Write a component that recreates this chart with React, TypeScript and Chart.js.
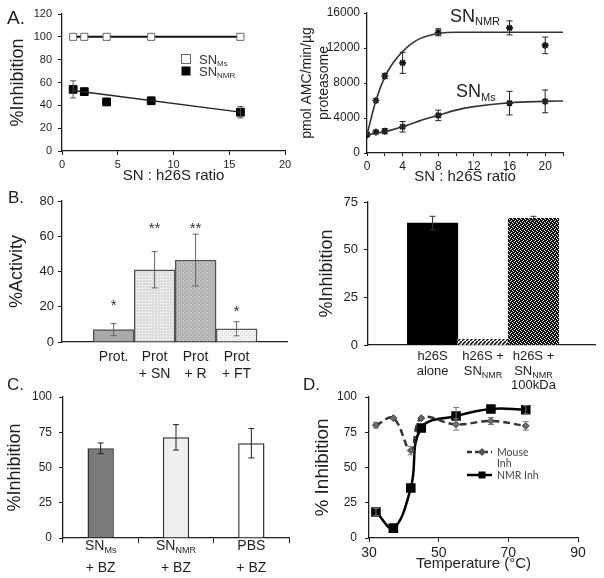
import React, { useEffect, useRef } from 'react';
import { Chart, registerables } from 'chart.js';

Chart.register(...registerables);

const FONT = "'Liberation Sans', Arial, Helvetica, sans-serif";
const INK = '#1e1e1e';

// ---------------- DATA ----------------
// Panel A (left): % inhibition vs SN : h26S ratio
const aRatios = [1, 2, 4, 8, 16];
const aInhMs = [100, 100, 100, 100, 100];
const aInhNmr = [54, 52, 43, 44, 34];
const aInhNmrErr = [7.5, 0, 0, 0, 5];
const aTrendX = [1, 16];
const aTrendNmr = [53, 34];

// Panel A (right): pmol AMC/min/ug proteasome vs SN : h26S ratio
const arRatios = [0, 1, 2, 4, 8, 16, 20];
const arNmr = [2100, 6000, 8800, 10300, 13800, 14300, 12300];
const arNmrErr = [0, 0, 300, 1200, 400, 800, 950];
const arMs = [2100, 2400, 2500, 3000, 4300, 5700, 5900];
const arMsErr = [0, 150, 300, 600, 600, 1350, 1300];
const arFitX = [0, 1, 2, 3, 4, 5, 6, 8, 10, 12, 16, 20, 22];
const arFitNmr = [2100, 6000, 8700, 10400, 11600, 12500, 13100, 13650, 13800, 13800, 13800, 13800, 13800];
const arFitMs = [2100, 2250, 2450, 2700, 3000, 3350, 3700, 4300, 4900, 5300, 5750, 5900, 5950];

// Panel B (left): % activity
const bLabels = [['Prot.'], ['Prot', '+ SN'], ['Prot', '+ R'], ['Prot', '+ FT']];
const bActivity = [7, 41, 46.5, 7.5];
const bActivityErr = [3.4, 10.3, 14.7, 4];
const bSig = ['*', '**', '**', '*'];

// Panel B (right): % inhibition
const b2Labels = [['h26S', 'alone'], ['h26S +', 'SN_{NMR}'], ['h26S +', 'SN_{NMR}', '100kDa']];
const b2Inh = [64, 3, 66.5];
const b2InhErr = [3.5, 0, 1];

// Panel C: % inhibition
const cLabels = [['SN_{Ms}', '+ BZ'], ['SN_{NMR}', '+ BZ'], ['PBS', '+ BZ']];
const cInh = [63.6, 71.4, 67.2];
const cInhErr = [3.8, 9, 10.4];

// Panel D: % inhibition vs temperature
const dTemp = [32, 37, 42, 45, 55, 65, 75];
const dMouse = [80, 85, 62, 85, 80.5, 83, 79.5];
const dMouseErr = [2, 0, 3, 0, 4, 2.5, 3];
const dNmr = [18.5, 7, 35.5, 78, 86.5, 91.5, 91];
const dNmrErr = [2.5, 0, 0, 0, 6, 0, 3];

// ---------------- HELPERS ----------------
type Box = { left: number; top: number; w: number; h: number };
type Area = { l: number; t: number; r: number; b: number };

function geom(box: Box, a: Area) {
  return {
    padding: { left: 0, top: a.t - box.top, right: box.left + box.w - a.r, bottom: 0 },
    yW: a.l - box.left,
    xH: box.top + box.h - a.b,
  };
}

function drawRich(ctx: any, text: string, x: number, y: number, o: any) {
  const parts: { t: string; sub: boolean }[] = [];
  const re = /_\{([^}]*)\}/g;
  let last = 0;
  let m: any;
  while ((m = re.exec(text)) !== null) {
    if (m.index > last) parts.push({ t: text.slice(last, m.index), sub: false });
    parts.push({ t: m[1], sub: true });
    last = re.lastIndex;
  }
  if (last < text.length) parts.push({ t: text.slice(last), sub: false });
  const fam = o.family || FONT;
  ctx.save();
  ctx.fillStyle = o.color || INK;
  ctx.textAlign = 'left';
  ctx.textBaseline = 'alphabetic';
  const widths = parts.map((p) => {
    ctx.font = `${p.sub ? o.sub : o.size}px ${fam}`;
    return ctx.measureText(p.t).width;
  });
  const total = widths.reduce((a, b) => a + b, 0);
  let cx = o.align === 'center' ? x - total / 2 : o.align === 'right' ? x - total : x;
  parts.forEach((p, i) => {
    ctx.font = `${p.sub ? o.sub : o.size}px ${fam}`;
    ctx.fillText(p.t, cx, y + (p.sub ? o.drop || 0 : 0));
    cx += widths[i];
  });
  ctx.restore();
}

const errorBars = {
  id: 'errorBars',
  afterDatasetsDraw(chart: any) {
    const ctx = chart.ctx;
    chart.data.datasets.forEach((ds: any, i: number) => {
      if (!ds.errors) return;
      const meta = chart.getDatasetMeta(i);
      const ys = chart.scales[meta.yAxisID];
      ctx.save();
      ctx.strokeStyle = ds.errColor || '#000';
      ctx.lineWidth = ds.errWidth || 1;
      meta.data.forEach((el: any, j: number) => {
        const e = ds.errors[j];
        if (!e) return;
        const raw = ds.data[j];
        const v = typeof raw === 'number' ? raw : raw.y;
        const x = el.x;
        const y1 = ys.getPixelForValue(v + e);
        const y2 = ys.getPixelForValue(v - e);
        const cw = ds.capW ?? 3;
        ctx.beginPath();
        ctx.moveTo(x, y1);
        ctx.lineTo(x, y2);
        ctx.moveTo(x - cw, y1);
        ctx.lineTo(x + cw, y1);
        ctx.moveTo(x - cw, y2);
        ctx.lineTo(x + cw, y2);
        ctx.stroke();
      });
      ctx.restore();
    });
  },
};

function makeDotPattern(bg: string, dot: string, size: number, dots: number[][]) {
  const c = document.createElement('canvas');
  c.width = size;
  c.height = size;
  const g = c.getContext('2d')!;
  g.fillStyle = bg;
  g.fillRect(0, 0, size, size);
  g.fillStyle = dot;
  dots.forEach(([x, y]) => g.fillRect(x, y, 1, 1));
  return g.createPattern(c, 'repeat');
}

function makeHatch() {
  const c = document.createElement('canvas');
  c.width = 4;
  c.height = 4;
  const g = c.getContext('2d')!;
  g.fillStyle = '#fff';
  g.fillRect(0, 0, 4, 4);
  g.strokeStyle = '#000';
  g.lineWidth = 1.5;
  g.beginPath();
  g.moveTo(0, 4);
  g.lineTo(4, 0);
  g.stroke();
  return g.createPattern(c, 'repeat');
}

function yAxis(o: any) {
  return {
    type: 'linear',
    position: 'left',
    min: o.min,
    max: o.max,
    ticks: {
      stepSize: o.step,
      font: { family: FONT, size: o.tickSize },
      color: INK,
      padding: o.pad,
      callback: (v: any) => String(v),
    },
    grid: { drawOnChartArea: false, drawTicks: true, tickLength: o.tl, color: INK, lineWidth: 1 },
    border: { display: true, color: INK, width: 1.3 },
    title: {
      display: true,
      text: o.title,
      font: { family: FONT, size: o.titleSize, lineHeight: 1.2 },
      color: INK,
      padding: { top: o.titlePad, bottom: 0 },
    },
    afterFit: (s: any) => {
      s.width = o.width;
    },
  };
}

function xLinAxis(o: any) {
  return {
    type: 'linear',
    position: 'bottom',
    offset: false,
    min: o.min,
    max: o.max,
    ticks: {
      display: o.showTicks !== false,
      stepSize: o.step,
      font: { family: FONT, size: o.tickSize || 12 },
      color: INK,
      padding: o.pad || 3,
      maxRotation: 0,
      autoSkip: false,
      callback: o.callback || ((v: any) => String(v)),
    },
    afterBuildTicks: o.tickValues
      ? (s: any) => {
          s.ticks = o.tickValues.map((v: number) => ({ value: v }));
        }
      : undefined,
    grid: { offset: false, drawOnChartArea: false, drawTicks: o.drawTicks !== false, tickLength: o.tl || 4, color: INK, lineWidth: 1 },
    border: { display: true, color: INK, width: 1.3 },
    title: o.title
      ? {
          display: true,
          text: o.title,
          font: { family: FONT, size: o.titleSize, lineHeight: 1.2 },
          color: INK,
          padding: { top: 0, bottom: o.titlePad },
        }
      : { display: false },
    afterFit: (s: any) => {
      s.height = o.height;
    },
  };
}

const BASE: any = {
  responsive: false,
  animation: false,
  events: [],
};
const NOPLUG = { legend: { display: false }, tooltip: { enabled: false } };

function barLabels(labels: string[][], o: any) {
  return {
    id: 'barLabels',
    afterDraw(chart: any) {
      const meta = chart.getDatasetMeta(0);
      const ca = chart.chartArea;
      labels.forEach((lines, i) => {
        const el = meta.data[i];
        lines.forEach((ln, k) =>
          drawRich(chart.ctx, ln, el.x, ca.bottom + o.first + k * o.gap, { ...o, align: 'center' })
        );
      });
    },
  };
}

// ---------------- PANEL CONFIGS ----------------
const boxA1: Box = { left: 0, top: 0, w: 300, h: 190 };
const areaA1: Area = { l: 62, t: 14, r: 285, b: 151 };
function cfgA1() {
  const g = geom(boxA1, areaA1);
  const legend = {
    id: 'legA1',
    afterDraw(chart: any) {
      const { ctx, chartArea: ca } = chart;
      const x = ca.left + 124;
      ctx.save();
      ctx.fillStyle = '#fff';
      ctx.strokeStyle = '#666';
      ctx.lineWidth = 1;
      ctx.fillRect(x - 4.5, ca.top + 40.5, 9, 9);
      ctx.strokeRect(x - 4.5, ca.top + 40.5, 9, 9);
      ctx.fillStyle = '#000';
      ctx.fillRect(x - 4.5, ca.top + 52.5, 9, 9);
      ctx.restore();
      drawRich(ctx, 'SN_{Ms}', ca.left + 137, ca.top + 50, { size: 13, sub: 8, drop: 2, color: '#333' });
      drawRich(ctx, 'SN_{NMR}', ca.left + 137, ca.top + 62, { size: 13, sub: 8, drop: 2, color: '#333' });
    },
  };
  return {
    type: 'scatter',
    data: {
      datasets: [
        {
          data: aRatios.map((x, i) => ({ x, y: aInhMs[i] })),
          showLine: true,
          borderColor: '#111',
          borderWidth: 2,
          pointStyle: 'rect',
          pointRadius: 5,
          pointBackgroundColor: '#fff',
          pointBorderColor: '#666',
          pointBorderWidth: 1,
        },
        {
          data: aTrendX.map((x, i) => ({ x, y: aTrendNmr[i] })),
          showLine: true,
          borderColor: '#222',
          borderWidth: 1.3,
          pointRadius: 0,
        },
        {
          data: aRatios.map((x, i) => ({ x, y: aInhNmr[i] })),
          pointStyle: 'rect',
          pointRadius: 5.5,
          pointBackgroundColor: '#000',
          pointBorderColor: '#000',
          pointBorderWidth: 1,
          errors: aInhNmrErr,
          errColor: '#555',
          capW: 3,
        },
      ],
    },
    options: {
      ...BASE,
      layout: { padding: g.padding },
      plugins: NOPLUG,
      scales: {
        x: xLinAxis({ min: 0, max: 20, step: 5, tickSize: 11, tl: 4, pad: 3, height: g.xH, title: 'SN : h26S ratio', titleSize: 15, titlePad: 5 }),
        y: yAxis({ min: 0, max: 120, step: 20, tickSize: 11, tl: 4, pad: 6, width: g.yW, title: '%Inhibition', titleSize: 18, titlePad: 7 }),
      },
    },
    plugins: [errorBars, legend],
  };
}

const boxA2: Box = { left: 298, top: 0, w: 306, h: 190 };
const areaA2: Area = { l: 367, t: 13, r: 563, b: 153 };
function cfgA2() {
  const g = geom(boxA2, areaA2);
  const labels = {
    id: 'labA2',
    afterDraw(chart: any) {
      const { ctx, chartArea: ca } = chart;
      drawRich(ctx, 'SN_{NMR}', ca.left + 83, ca.top + 9, { size: 18, sub: 11, drop: 3, color: '#222' });
      drawRich(ctx, 'SN_{Ms}', ca.left + 89, ca.top + 84, { size: 18, sub: 11, drop: 4, color: '#222' });
    },
  };
  return {
    type: 'scatter',
    data: {
      datasets: [
        {
          data: arFitX.map((x, i) => ({ x, y: arFitNmr[i] })),
          showLine: true,
          cubicInterpolationMode: 'monotone',
          borderColor: '#333',
          borderWidth: 1.6,
          pointRadius: 0,
        },
        {
          data: arFitX.map((x, i) => ({ x, y: arFitMs[i] })),
          showLine: true,
          cubicInterpolationMode: 'monotone',
          borderColor: '#333',
          borderWidth: 1.6,
          pointRadius: 0,
        },
        {
          data: arRatios.map((x, i) => ({ x, y: arNmr[i] })),
          pointStyle: 'star',
          pointRadius: 3.5,
          pointBorderWidth: 1.6,
          pointBorderColor: '#111',
          pointBackgroundColor: '#111',
          errors: arNmrErr,
          errColor: '#222',
          capW: 3,
        },
        {
          data: arRatios.map((x, i) => ({ x, y: arMs[i] })),
          pointStyle: 'star',
          pointRadius: 3.5,
          pointBorderWidth: 1.6,
          pointBorderColor: '#111',
          pointBackgroundColor: '#111',
          errors: arMsErr,
          errColor: '#222',
          capW: 3,
        },
      ],
    },
    options: {
      ...BASE,
      layout: { padding: g.padding },
      plugins: NOPLUG,
      scales: {
        x: xLinAxis({
          min: 0,
          max: 22,
          step: 2,
          tickSize: 12,
          tl: 3,
          pad: 3,
          height: g.xH,
          title: 'SN : h26S ratio',
          titleSize: 15,
          titlePad: 4,
          callback: (v: any) => (v % 4 === 0 && v <= 20 ? String(v) : ''),
        }),
        y: yAxis({
          min: 0,
          max: 16000,
          step: 4000,
          tickSize: 12,
          tl: 3,
          pad: 4,
          width: g.yW,
          title: ['pmol AMC/min/µg', 'proteasome'],
          titleSize: 14,
          titlePad: 1,
        }),
      },
    },
    plugins: [errorBars, labels],
  };
}

const boxB1: Box = { left: 0, top: 185, w: 300, h: 200 };
const areaB1: Area = { l: 62, t: 201, r: 287, b: 342 };
function cfgB1() {
  const g = geom(boxB1, areaB1);
  const fills = [
    '#a9a9a9',
    makeDotPattern('#dedede', '#ffffff', 3, [[1, 1]]),
    makeDotPattern('#b3b3b3', '#d6d6d6', 4, [[1, 1], [3, 3]]),
    makeDotPattern('#f4f4f4', '#c4c4c4', 4, [[0, 0], [2, 2]]),
  ];
  const sigLevel = [18, 62, 62, 15];
  const sig = {
    id: 'sigB1',
    afterDraw(chart: any) {
      const meta = chart.getDatasetMeta(0);
      const ys = chart.scales.y;
      bSig.forEach((s, i) => {
        drawRich(chart.ctx, s, meta.data[i].x, ys.getPixelForValue(sigLevel[i]), { size: 15, sub: 10, align: 'center', color: '#333' });
      });
    },
  };
  return {
    type: 'bar',
    data: {
      datasets: [
        {
          data: bActivity.map((y, i) => ({ x: i + 1, y })),
          backgroundColor: fills,
          borderColor: '#555',
          borderWidth: 1.5,
          barPercentage: 1,
          categoryPercentage: 1,
          errors: bActivityErr,
          errColor: '#666',
          capW: 3,
        },
      ],
    },
    options: {
      ...BASE,
      layout: { padding: g.padding },
      plugins: NOPLUG,
      scales: {
        x: xLinAxis({ min: -0.26, max: 5.23, showTicks: false, drawTicks: false, tickValues: [1, 2, 3, 4], height: g.xH }),
        y: yAxis({ min: 0, max: 80, step: 20, tickSize: 13, tl: 4, pad: 4, width: g.yW, title: '%Activity', titleSize: 18, titlePad: 6 }),
      },
    },
    plugins: [errorBars, barLabels(bLabels, { size: 14, sub: 9, drop: 3, first: 19, gap: 16.5 }), sig],
  };
}

const boxB2: Box = { left: 298, top: 185, w: 306, h: 205 };
const areaB2: Area = { l: 368, t: 202, r: 595, b: 345 };
function cfgB2() {
  const g = geom(boxB2, areaB2);
  const fills = [
    '#000000',
    makeHatch(),
    makeDotPattern('#151515', '#e8e8e8', 4, [[0, 0], [2, 1], [1, 3], [3, 2]]),
  ];
  return {
    type: 'bar',
    data: {
      datasets: [
        {
          data: b2Inh.map((y, i) => ({ x: i + 1, y })),
          backgroundColor: fills,
          borderWidth: 0,
          barPercentage: 1,
          categoryPercentage: 1,
          errors: b2InhErr,
          errColor: '#333',
          capW: 3,
        },
      ],
    },
    options: {
      ...BASE,
      layout: { padding: g.padding },
      plugins: NOPLUG,
      scales: {
        x: xLinAxis({ min: -0.28, max: 4.22, showTicks: false, drawTicks: false, tickValues: [1, 2, 3], height: g.xH }),
        y: yAxis({ min: 0, max: 75, step: 25, tickSize: 13, tl: 4, pad: 6, width: g.yW, title: '%Inhibition', titleSize: 18, titlePad: 18 }),
      },
    },
    plugins: [errorBars, barLabels(b2Labels, { size: 13, sub: 9, drop: 3, first: 15, gap: 14.5 })],
  };
}

const boxC: Box = { left: 0, top: 380, w: 300, h: 198 };
const areaC: Area = { l: 63, t: 397, r: 289, b: 538 };
function cfgC() {
  const g = geom(boxC, areaC);
  return {
    type: 'bar',
    data: {
      labels: cLabels.map((l) => l.join(' ')),
      datasets: [
        {
          data: cInh,
          backgroundColor: ['#7a7a7a', '#efefef', '#ffffff'],
          borderColor: '#333',
          borderWidth: 1.5,
          barPercentage: 0.35,
          categoryPercentage: 1,
          errors: cInhErr,
          errColor: '#222',
          capW: 3,
        },
      ],
    },
    options: {
      ...BASE,
      layout: { padding: g.padding },
      plugins: NOPLUG,
      scales: {
        x: {
          type: 'category',
          offset: true,
          ticks: { display: false },
          grid: { offset: true, drawOnChartArea: false, drawTicks: true, tickLength: 5, color: INK },
          border: { display: true, color: INK, width: 1.3 },
          afterFit: (s: any) => {
            s.height = g.xH;
          },
        },
        y: yAxis({ min: 0, max: 100, step: 25, tickSize: 12, tl: 4, pad: 7, width: g.yW, title: '%Inhibition', titleSize: 18, titlePad: 4 }),
      },
    },
    plugins: [errorBars, barLabels(cLabels, { size: 14, sub: 9, drop: 3, first: 12, gap: 22 })],
  };
}

const boxD: Box = { left: 298, top: 380, w: 306, h: 198 };
const areaD: Area = { l: 369, t: 397, r: 578, b: 538 };
function cfgD() {
  const g = geom(boxD, areaD);
  const legend = {
    id: 'legD',
    afterDraw(chart: any) {
      const { ctx, chartArea: ca } = chart;
      const x0 = ca.left + 98;
      const x1 = ca.left + 123;
      const y1 = ca.top + 55;
      const y2 = ca.top + 78;
      const mx = ca.left + 113;
      ctx.save();
      ctx.strokeStyle = '#333';
      ctx.lineWidth = 2.5;
      ctx.setLineDash([5, 3]);
      ctx.beginPath();
      ctx.moveTo(x0, y1);
      ctx.lineTo(x1, y1);
      ctx.stroke();
      ctx.setLineDash([]);
      ctx.fillStyle = '#555';
      ctx.beginPath();
      ctx.moveTo(mx, y1 - 4);
      ctx.lineTo(mx + 4, y1);
      ctx.lineTo(mx, y1 + 4);
      ctx.lineTo(mx - 4, y1);
      ctx.closePath();
      ctx.fill();
      ctx.strokeStyle = '#000';
      ctx.beginPath();
      ctx.moveTo(x0, y2);
      ctx.lineTo(x1, y2);
      ctx.stroke();
      ctx.fillStyle = '#000';
      ctx.fillRect(mx - 3.5, y2 - 3.5, 7, 7);
      ctx.restore();
      const lo = { size: 10.5, sub: 8, color: '#444', family: "Lato, 'Open Sans', sans-serif" };
      drawRich(ctx, 'Mouse', x1 + 5, y1 + 3.5, lo);
      drawRich(ctx, 'Inh', x1 + 5, y1 + 15, lo);
      drawRich(ctx, 'NMR Inh', x1 + 5, y2 + 3.5, lo);
    },
  };
  return {
    type: 'scatter',
    data: {
      datasets: [
        {
          data: dTemp.map((x, i) => ({ x, y: dMouse[i] })),
          showLine: true,
          tension: 0.4,
          borderColor: '#333',
          borderWidth: 2.5,
          borderDash: [7, 4],
          pointStyle: 'rectRot',
          pointRadius: 3.5,
          pointBackgroundColor: '#666',
          pointBorderColor: '#444',
          pointBorderWidth: 1,
          errors: dMouseErr,
          errColor: '#777',
          capW: 3,
        },
        {
          data: dTemp.map((x, i) => ({ x, y: dNmr[i] })),
          showLine: true,
          tension: 0.4,
          borderColor: '#000',
          borderWidth: 2.5,
          pointStyle: 'rect',
          pointRadius: 5,
          pointBackgroundColor: '#000',
          pointBorderColor: '#000',
          errors: dNmrErr,
          errColor: '#777',
          capW: 3,
        },
      ],
    },
    options: {
      ...BASE,
      layout: { padding: g.padding },
      plugins: NOPLUG,
      scales: {
        x: xLinAxis({ min: 30, max: 90, step: 20, tickSize: 14, tl: 4, pad: 3, height: g.xH, title: 'Temperature (°C)', titleSize: 15, titlePad: 5 }),
        y: yAxis({ min: 0, max: 100, step: 25, tickSize: 12, tl: 4, pad: 8, width: g.yW, title: '% Inhibition', titleSize: 19, titlePad: 13 }),
      },
    },
    plugins: [errorBars, legend],
  };
}

// ---------------- COMPONENTS ----------------
function Panel({ box, make }: { box: Box; make: () => any }) {
  const ref = useRef<HTMLCanvasElement>(null);
  useEffect(() => {
    const chart = new Chart(ref.current as HTMLCanvasElement, make());
    return () => chart.destroy();
  }, []);
  return (
    <canvas
      ref={ref}
      width={box.w}
      height={box.h}
      style={{ position: 'absolute', left: box.left, top: box.top, width: box.w, height: box.h }}
    />
  );
}

function Letter({ t, left, top, size }: { t: string; left: number; top: number; size: number }) {
  return (
    <div
      style={{
        position: 'absolute',
        left,
        top,
        fontFamily: FONT,
        fontSize: size,
        lineHeight: `${size}px`,
        color: INK,
        whiteSpace: 'nowrap',
      }}
    >
      {t}
    </div>
  );
}

export default function App() {
  return (
    <div
      style={{
        position: 'absolute',
        left: 0,
        top: 0,
        width: 604,
        height: 578,
        background: '#fff',
        overflow: 'hidden',
      }}
    >
      <Panel box={boxA1} make={cfgA1} />
      <Panel box={boxA2} make={cfgA2} />
      <Panel box={boxB1} make={cfgB1} />
      <Panel box={boxB2} make={cfgB2} />
      <Panel box={boxC} make={cfgC} />
      <Panel box={boxD} make={cfgD} />
      <Letter t="A." left={7} top={8} size={19} />
      <Letter t="B." left={8} top={189} size={17} />
      <Letter t="C." left={7} top={376} size={17} />
      <Letter t="D." left={303} top={376} size={17} />
    </div>
  );
}
